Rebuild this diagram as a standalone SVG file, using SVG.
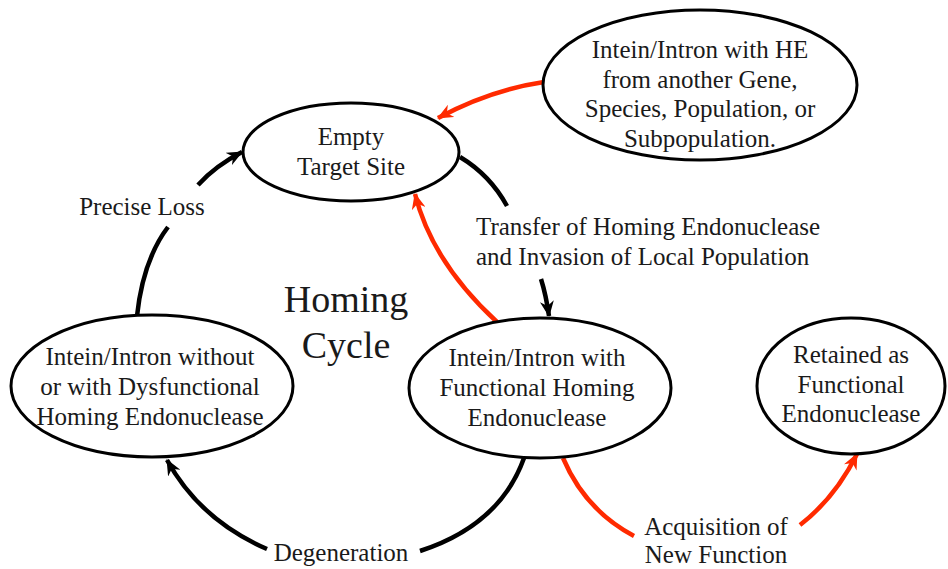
<svg xmlns="http://www.w3.org/2000/svg" width="948" height="569" viewBox="0 0 948 569">
<style>
.node ellipse{fill:#fff;stroke:#000;stroke-width:3}
text{font-family:'Liberation Serif','DejaVu Serif',serif;font-size:25px;fill:#1a1a1a;text-anchor:middle}
.big{font-size:38px}
.lbl{text-anchor:start}
.k{fill:none;stroke:#000;stroke-width:4.5}
.r{fill:none;stroke:#ff2a00;stroke-width:4.5}
</style>
<defs>
<marker id="ak" viewBox="0 0 16 14" refX="15" refY="7" markerWidth="16" markerHeight="14" markerUnits="userSpaceOnUse" orient="auto">
<path d="M0,0 L16,7 L0,14 L5,7 Z" fill="#000"/>
</marker>
<marker id="ar" viewBox="0 0 16 14" refX="15" refY="7" markerWidth="16" markerHeight="14" markerUnits="userSpaceOnUse" orient="auto">
<path d="M0,0 L16,7 L0,14 L5,7 Z" fill="#ff2a00"/>
</marker>
</defs>
<rect width="948" height="569" fill="#fff"/>
<g id="connectors">
<path class="k" d="M137,316 Q143,260 168,227"/>
<path class="k" d="M198,185 Q215,166 242,152" marker-end="url(#ak)"/>
<path class="k" d="M460,157 Q490,175 507,206"/>
<path class="k" d="M541,279 Q546,295 549,316" marker-end="url(#ak)"/>
<path class="r" d="M497,322 Q432,262 415,194" marker-end="url(#ar)"/>
<path class="r" d="M544,82 Q490,90 438,118" marker-end="url(#ar)"/>
<path class="k" d="M524,458 Q500,525 420,551"/>
<path class="k" d="M267,549 Q200,520 167,460" marker-end="url(#ak)"/>
<path class="r" d="M563,458 Q585,510 634,536"/>
<path class="r" d="M800,525 Q835,498 857,454" marker-end="url(#ar)"/>
</g>
<g id="empty" class="node">
<ellipse cx="351" cy="152" rx="108" ry="49"/>
<text x="351" y="145">Empty</text>
<text x="351" y="175">Target Site</text>
</g>
<g id="other" class="node">
<ellipse cx="700" cy="85" rx="157" ry="75"/>
<text x="700" y="58">Intein/Intron with HE</text>
<text x="700" y="88">from another Gene,</text>
<text x="700" y="117">Species, Population, or</text>
<text x="700" y="147">Subpopulation.</text>
</g>
<g id="dysfunctional" class="node">
<ellipse cx="152" cy="386" rx="141" ry="71"/>
<text x="150" y="365">Intein/Intron without</text>
<text x="150" y="395">or with Dysfunctional</text>
<text x="150" y="425">Homing Endonuclease</text>
</g>
<g id="functional" class="node">
<ellipse cx="540" cy="388" rx="131" ry="70"/>
<text x="537" y="366">Intein/Intron with</text>
<text x="537" y="396">Functional Homing</text>
<text x="537" y="426">Endonuclease</text>
</g>
<g id="retained" class="node">
<ellipse cx="851" cy="386" rx="94" ry="68"/>
<text x="851" y="363">Retained as</text>
<text x="851" y="393">Functional</text>
<text x="851" y="422">Endonuclease</text>
</g>
<g id="labels">
<text class="big" x="346" y="312">Homing</text>
<text class="big" x="346" y="358">Cycle</text>
<text x="142" y="215">Precise Loss</text>
<text class="lbl" x="476" y="235">Transfer of Homing Endonuclease</text>
<text class="lbl" x="476" y="265">and Invasion of Local Population</text>
<text x="341" y="561">Degeneration</text>
<text x="716" y="535">Acquisition of</text>
<text x="716" y="563">New Function</text>
</g>
</svg>
